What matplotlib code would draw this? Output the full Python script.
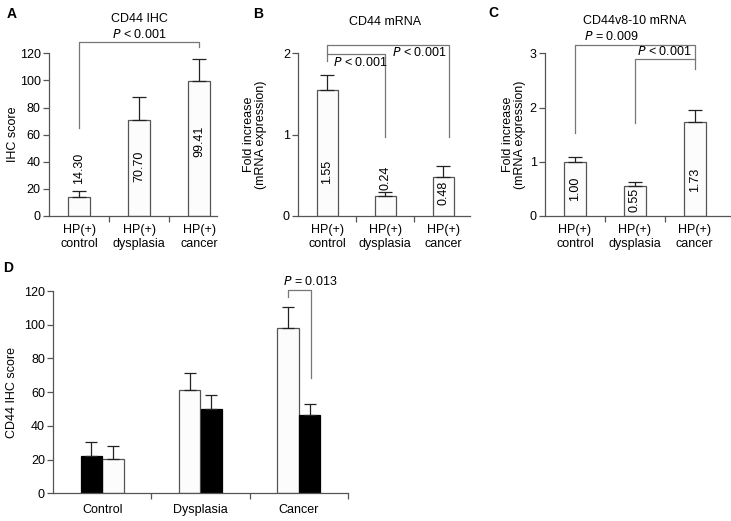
import numpy as np
import matplotlib.pyplot as plt

plt.rcParams["font.family"] = ["Liberation Sans", "DejaVu Sans"]
plt.rcParams["font.size"] = 9

# ---- data ----
cats_abc = ["HP(+)\ncontrol", "HP(+)\ndysplasia", "HP(+)\ncancer"]

a_vals = [14.30, 70.70, 99.41]
a_err = [4.3, 16.8, 16.2]
a_text = ["14.30", "70.70", "99.41"]

b_vals = [1.55, 0.25, 0.48]
b_err = [0.18, 0.04, 0.14]
b_text = ["1.55", "0.24", "0.48"]

c_vals = [1.00, 0.55, 1.73]
c_err = [0.09, 0.08, 0.22]
c_text = ["1.00", "0.55", "1.73"]

d_groups = ["Control", "Dysplasia", "Cancer"]
d_white = [20.3, 61.1, 98.3]
d_white_err = [8.0, 10.1, 12.2]
d_black = [22.3, 49.8, 46.3]
d_black_err = [8.3, 8.7, 6.9]
d_white_first = [False, True, True]

SPINE = "#555555"
EDGE = "#555555"
W = 731
H = 521


def px_axes(fig, x0, x1, y0, y1):
    # pixel box -> figure fraction
    return fig.add_axes([x0 / W, 1 - y1 / H, (x1 - x0) / W, (y1 - y0) / H])


def style(ax):
    for s in ["top", "right"]:
        ax.spines[s].set_visible(False)
    for s in ["left", "bottom"]:
        ax.spines[s].set_color(SPINE)
        ax.spines[s].set_linewidth(0.9)
    ax.tick_params(axis="y", direction="out", length=4, color=SPINE, width=0.9,
                   labelsize=9, pad=2)


def simple_panel(ax, vals, err, texts, text_y, xlim, ylim, yticks):
    x = np.arange(len(vals))
    ax.bar(x, vals, width=0.37, color="#fcfcfc", edgecolor=EDGE, linewidth=0.9, zorder=2)
    ax.errorbar(x, vals, yerr=[np.zeros(len(vals)), err], fmt="none", ecolor="#222222",
                elinewidth=0.9, capsize=5, capthick=0.9, zorder=3)
    for xi, t, ty in zip(x, texts, text_y):
        ax.text(xi, ty, t, rotation=90, ha="center", va="center", fontsize=9)
    ax.set_xlim(*xlim)
    ax.set_ylim(*ylim)
    ax.set_yticks(yticks)
    ax.set_xticks([0.5, 1.5])
    ax.set_xticklabels([])
    ax.tick_params(axis="x", direction="out", length=4, color=SPINE, width=0.9)
    ax.set_xticks(x, minor=True)
    ax.set_xticklabels(cats_abc, minor=True, fontsize=9, linespacing=1.15)
    ax.tick_params(axis="x", which="minor", length=0, pad=6)
    style(ax)


def bracket(ax, pts, **kw):
    xs, ys = zip(*pts)
    ax.plot(xs, ys, color="#777777", lw=0.9, clip_on=False, **kw)


fig = plt.figure(figsize=(7.31, 5.21), dpi=100)

# ---- A ----
axA = px_axes(fig, 49, 217, 53.3, 216)
simple_panel(axA, a_vals, a_err, a_text, [35, 37, 55], (-0.5, 2.3), (0, 120),
             [0, 20, 40, 60, 80, 100, 120])
axA.set_ylabel("IHC score", fontsize=9)
axA.yaxis.set_label_coords(-0.179, 0.5)
bracket(axA, [(0, 65), (0, 128), (2, 128), (2, 125)])
axA.text(1, 133.5, "$P$ < 0.001", ha="center", va="center", fontsize=9)
axA.text(1, 145.5, "CD44 IHC", ha="center", va="center", fontsize=9)

# ---- B ----
axB = px_axes(fig, 298.3, 470, 53.3, 216)
simple_panel(axB, b_vals, b_err, b_text, [0.545, 0.47, 0.28], (-0.5, 2.46), (0, 2),
             [0, 1, 2])
axB.set_ylabel("Fold increase\n(mRNA expression)", fontsize=9, linespacing=1.0)
axB.yaxis.set_label_coords(-0.182, 0.5)
bracket(axB, [(0, 1.90), (0, 2.10), (2.1, 2.10), (2.1, 0.975)])
bracket(axB, [(0, 1.99), (1.0, 1.99), (1.0, 0.975)])
axB.text(0.1, 1.89, "$P$ < 0.001", ha="left", va="center", fontsize=9)
axB.text(2.05, 2.01, "$P$ < 0.001", ha="right", va="center", fontsize=9)
axB.text(1, 2.38, "CD44 mRNA", ha="center", va="center", fontsize=9)

# ---- C ----
axC = px_axes(fig, 545, 730, 53.3, 216)
simple_panel(axC, c_vals, c_err, c_text, [0.51, 0.295, 0.66], (-0.5, 2.59), (0, 3),
             [0, 1, 2, 3])
axC.set_ylabel("Fold increase\n(mRNA expression)", fontsize=9, linespacing=1.0)
axC.yaxis.set_label_coords(-0.105, 0.5)
bracket(axC, [(0, 1.53), (0, 3.15), (2, 3.15), (2, 2.71)])
bracket(axC, [(1.01, 1.71), (1.01, 2.90), (2, 2.90)])
axC.text(0.15, 3.31, "$P$ = 0.009", ha="left", va="center", fontsize=9)
axC.text(1.95, 3.03, "$P$ < 0.001", ha="right", va="center", fontsize=9)
axC.text(1, 3.6, "CD44v8-10 mRNA", ha="center", va="center", fontsize=9)

# ---- D ----
axD = px_axes(fig, 53.3, 347.7, 291, 493.3)
bw = 0.222
for i in range(len(d_groups)):
    c = i + 0.5
    if d_white_first[i]:
        xw, xb = c - bw / 2, c + bw / 2
    else:
        xb, xw = c - bw / 2, c + bw / 2
    axD.bar(xw, d_white[i], width=bw, color="#fcfcfc", edgecolor=EDGE, linewidth=0.9, zorder=2)
    axD.bar(xb, d_black[i], width=bw, color="black", edgecolor="black", linewidth=0.9, zorder=2)
    axD.errorbar([xw, xb], [d_white[i], d_black[i]],
                 yerr=[[0, 0], [d_white_err[i], d_black_err[i]]], fmt="none",
                 ecolor="#222222", elinewidth=0.9, capsize=4, capthick=0.9, zorder=3)
axD.set_xlim(0, 3)
axD.set_ylim(0, 120)
axD.set_yticks([0, 20, 40, 60, 80, 100, 120])
axD.set_xticks([1, 2, 3])
axD.set_xticklabels([])
axD.tick_params(axis="x", direction="out", length=4, color=SPINE, width=0.9)
axD.set_xticks([0.5, 1.5, 2.5], minor=True)
axD.set_xticklabels(d_groups, minor=True, fontsize=9)
axD.tick_params(axis="x", which="minor", length=0, pad=8)
style(axD)
axD.set_ylabel("CD44 IHC score", fontsize=9)
axD.yaxis.set_label_coords(-0.1206, 0.5)
bracket(axD, [(2.5 - bw / 2, 116.6), (2.5 - bw / 2, 120.6), (2.5 + bw / 2 + 0.01, 120.6),
              (2.5 + bw / 2 + 0.01, 68.2)])
axD.text(2.62, 125.5, "$P$ = 0.013", ha="center", va="center", fontsize=9)

# panel letters
for lbl, (px, py) in zip("ABCD", [(12, 14), (258, 14), (493, 13), (8.5, 268)]):
    fig.text(px / W, 1 - py / H, lbl, fontsize=10, fontweight="bold", ha="center", va="center")

fig.savefig("out.png", dpi=100)
